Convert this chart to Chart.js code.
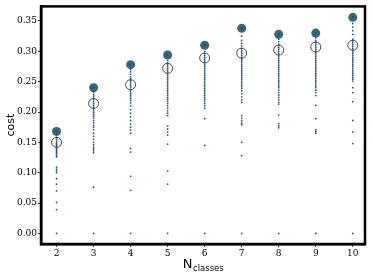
<!DOCTYPE html>
<html>
<head>
<meta charset="utf-8">
<script src="https://cdn.jsdelivr.net/npm/chart.js@4.4.0/dist/chart.umd.min.js"></script>
<style>
  html, body { margin: 0; padding: 0; background: #fff; }
  #wrap { width: 373px; height: 275px; }
</style>
</head>
<body>
<div id="wrap"><canvas id="myChart" width="373" height="275"></canvas></div>
<script>
// number of classes on the x axis
const nClasses = [2, 3, 4, 5, 6, 7, 8, 9, 10];
// best (max) cost per N, filled markers
const maxCost = [0.168, 0.240, 0.278, 0.294, 0.310, 0.338, 0.328, 0.330, 0.356];
// mean cost per N, open markers
const meanCost = [0.150, 0.214, 0.245, 0.272, 0.289, 0.297, 0.302, 0.307, 0.310];

// individual runs per N (small dots)
const runs2 = [0.168, 0.163, 0.158, 0.155, 0.152, 0.149, 0.147, 0.145, 0.143, 0.141, 0.139, 0.137, 0.135, 0.133, 0.131, 0.128, 0.126, 0.109, 0.106, 0.103, 0.100, 0.090, 0.081, 0.070, 0.051, 0.039, 0.0];
const runs3 = [0.240, 0.233, 0.229, 0.226, 0.223, 0.220, 0.217, 0.214, 0.211, 0.208, 0.205, 0.202, 0.199, 0.196, 0.193, 0.190, 0.186, 0.182, 0.178, 0.175, 0.171, 0.165, 0.160, 0.155, 0.150, 0.146, 0.142, 0.139, 0.136, 0.133, 0.076, 0.0];
const runs4 = [0.278, 0.270, 0.266, 0.262, 0.258, 0.255, 0.252, 0.249, 0.246, 0.243, 0.240, 0.237, 0.234, 0.231, 0.228, 0.225, 0.222, 0.219, 0.215, 0.210, 0.204, 0.198, 0.192, 0.186, 0.180, 0.175, 0.170, 0.165, 0.140, 0.134, 0.094, 0.071, 0.0];
const runs5 = [0.294, 0.285, 0.281, 0.278, 0.275, 0.272, 0.269, 0.266, 0.263, 0.260, 0.257, 0.254, 0.251, 0.248, 0.245, 0.242, 0.239, 0.236, 0.233, 0.230, 0.227, 0.224, 0.221, 0.218, 0.214, 0.210, 0.206, 0.202, 0.198, 0.194, 0.177, 0.172, 0.167, 0.162, 0.147, 0.103, 0.081, 0.0];
const runs6 = [0.310, 0.300, 0.296, 0.293, 0.290, 0.287, 0.284, 0.281, 0.278, 0.275, 0.272, 0.269, 0.266, 0.263, 0.260, 0.257, 0.254, 0.251, 0.248, 0.245, 0.242, 0.239, 0.236, 0.233, 0.230, 0.227, 0.224, 0.221, 0.218, 0.214, 0.210, 0.206, 0.189, 0.145, 0.0];
const runs7 = [0.338, 0.325, 0.318, 0.313, 0.309, 0.305, 0.302, 0.299, 0.296, 0.293, 0.290, 0.287, 0.284, 0.281, 0.278, 0.275, 0.272, 0.269, 0.266, 0.263, 0.260, 0.257, 0.254, 0.251, 0.248, 0.245, 0.242, 0.239, 0.235, 0.230, 0.225, 0.220, 0.216, 0.194, 0.190, 0.186, 0.182, 0.179, 0.150, 0.128, 0.0];
const runs8 = [0.328, 0.320, 0.316, 0.312, 0.309, 0.306, 0.303, 0.300, 0.297, 0.294, 0.291, 0.288, 0.285, 0.282, 0.279, 0.276, 0.273, 0.270, 0.267, 0.264, 0.261, 0.258, 0.255, 0.252, 0.249, 0.246, 0.243, 0.240, 0.236, 0.232, 0.228, 0.224, 0.220, 0.216, 0.213, 0.195, 0.181, 0.177, 0.174, 0.0];
const runs9 = [0.330, 0.322, 0.318, 0.315, 0.312, 0.309, 0.306, 0.303, 0.300, 0.297, 0.294, 0.291, 0.288, 0.285, 0.282, 0.279, 0.276, 0.273, 0.270, 0.267, 0.264, 0.261, 0.258, 0.255, 0.252, 0.249, 0.246, 0.243, 0.240, 0.236, 0.232, 0.227, 0.211, 0.189, 0.171, 0.168, 0.165, 0.0];
const runs10 = [0.356, 0.346, 0.340, 0.334, 0.328, 0.320, 0.317, 0.314, 0.311, 0.308, 0.305, 0.302, 0.299, 0.296, 0.293, 0.290, 0.287, 0.284, 0.281, 0.278, 0.275, 0.272, 0.269, 0.266, 0.263, 0.260, 0.257, 0.254, 0.251, 0.240, 0.232, 0.217, 0.186, 0.167, 0.148, 0.0];
const allRuns = [runs2, runs3, runs4, runs5, runs6, runs7, runs8, runs9, runs10];

const yTicks = [0.00, 0.05, 0.10, 0.15, 0.20, 0.25, 0.30, 0.35];

let runPoints = [];
allRuns.forEach(function(list, i) {
    list.forEach(function(v) { runPoints.push({x: nClasses[i], y: v}); });
});
let maxPoints = nClasses.map(function(n, i) { return {x: n, y: maxCost[i]}; });
let meanPoints = nClasses.map(function(n, i) { return {x: n, y: meanCost[i]}; });

// frame + axis titles (x title needs a subscript)
const framePlugin = {
    id: 'frame',
    afterDraw: function(chart) {
        const c = chart.ctx, a = chart.chartArea;
        c.save();
        c.strokeStyle = '#000';
        c.lineWidth = 2.5;
        c.strokeRect(a.left, a.top, a.right - a.left, a.bottom - a.top);

        c.fillStyle = '#000';
        c.textBaseline = 'middle';
        c.textAlign = 'center';
        c.font = '11px "DejaVu Sans"';
        c.translate(11, (a.top + a.bottom) / 2);
        c.rotate(-Math.PI / 2);
        c.fillText('cost', 0, 0);
        c.restore();

        c.save();
        c.fillStyle = '#000';
        c.textBaseline = 'alphabetic';
        c.textAlign = 'left';
        c.font = '500 13px "DejaVu Sans"';
        const wN = c.measureText('N').width;
        c.font = '8.5px "DejaVu Sans"';
        const wS = c.measureText('classes').width;
        const x0 = (a.left + a.right) / 2 - (wN + wS) / 2;
        c.font = '500 13px "DejaVu Sans"';
        c.fillText('N', x0, 268);
        c.font = '8.5px "DejaVu Sans"';
        c.fillText('classes', x0 + wN + 0.5, 270.5);
        c.restore();
    }
};

const bgPlugin = {
    id: 'bg',
    beforeDraw: function(chart) {
        const c = chart.ctx;
        c.save();
        c.fillStyle = '#fff';
        c.fillRect(0, 0, chart.width, chart.height);
        c.restore();
    }
};

let ctx = document.getElementById('myChart').getContext('2d');
let chart = new Chart(ctx, {
    type: 'scatter',
    data: {
        datasets: [
            {
                label: 'runs',
                data: runPoints,
                pointRadius: 0.9,
                pointBorderWidth: 0,
                backgroundColor: 'rgba(22, 68, 102, 0.9)',
                borderColor: 'rgba(22, 68, 102, 0.9)'
            },
            {
                label: 'mean',
                data: meanPoints,
                pointRadius: 5,
                pointBorderWidth: 1,
                backgroundColor: 'rgba(0,0,0,0)',
                borderColor: '#4a4a4a'
            },
            {
                label: 'max',
                data: maxPoints,
                pointRadius: 4.5,
                pointBorderWidth: 0,
                backgroundColor: '#3d6379',
                borderColor: '#3d6379'
            }
        ]
    },
    options: {
        responsive: false,
        animation: false,
        layout: { padding: { left: 0, right: 8, top: 5, bottom: 0 } },
        plugins: {
            legend: { display: false },
            tooltip: { enabled: false }
        },
        scales: {
            x: {
                type: 'linear',
                min: 1.58,
                max: 10.33,
                afterFit: function(s) { s.height = 31; },
                afterBuildTicks: function(s) {
                    s.ticks = nClasses.map(function(v) { return {value: v}; });
                },
                border: { display: true, color: '#000', width: 2.5 },
                grid: { drawOnChartArea: false, tickLength: 3, color: '#000', tickWidth: 0.8 },
                ticks: {
                    color: '#000',
                    padding: 1,
                    maxRotation: 0,
                    font: { family: '"DejaVu Serif"', size: 9 },
                    callback: function(v) { return String(v); }
                }
            },
            y: {
                type: 'linear',
                min: -0.0175,
                max: 0.374,
                afterFit: function(s) { s.width = 41; },
                afterBuildTicks: function(s) {
                    s.ticks = yTicks.map(function(v) { return {value: v}; });
                },
                border: { display: true, color: '#000', width: 2.5 },
                grid: { drawOnChartArea: false, tickLength: 3, color: '#000', tickWidth: 0.8 },
                ticks: {
                    color: '#000',
                    padding: 1,
                    font: { family: '"DejaVu Serif"', size: 9 },
                    callback: function(v) { return v.toFixed(2); }
                }
            }
        }
    },
    plugins: [bgPlugin, framePlugin]
});
</script>
</body>
</html>
